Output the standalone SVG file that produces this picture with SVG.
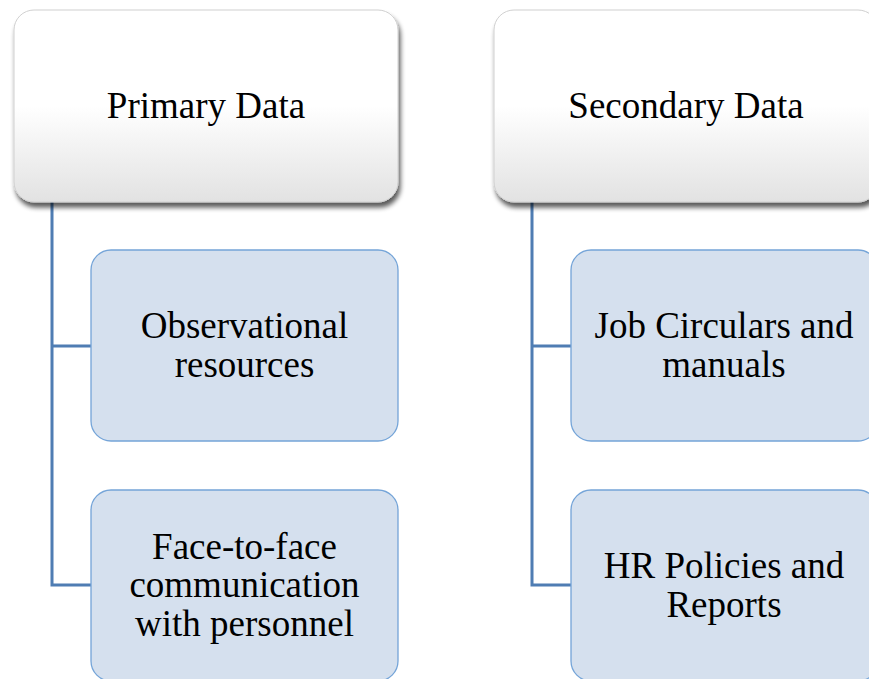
<svg xmlns="http://www.w3.org/2000/svg" width="869" height="679" viewBox="0 0 869 679">
<defs>
<linearGradient id="hg" x1="0" y1="0" x2="0" y2="1">
<stop offset="0" stop-color="#ffffff"/>
<stop offset="0.5" stop-color="#ffffff"/>
<stop offset="1" stop-color="#e2e2e2"/>
</linearGradient>
<filter id="sh" x="-10%" y="-10%" width="125%" height="130%">
<feGaussianBlur in="SourceAlpha" stdDeviation="2.5"/>
<feOffset dx="2" dy="5" result="b"/>
<feComponentTransfer><feFuncA type="linear" slope="0.65"/></feComponentTransfer>
<feMerge><feMergeNode/><feMergeNode in="SourceGraphic"/></feMerge>
</filter>
</defs>
<style>
.head{fill:url(#hg);stroke:#d0d0d0;stroke-width:1}
.child{fill:#d5e0ee;stroke:#74a4d8;stroke-width:1.3}
.conn{fill:none;stroke:#4f7db3;stroke-width:3}
text{font-family:"Liberation Serif","Times New Roman",serif;font-size:37px;fill:#000;text-anchor:middle}
</style>
<rect width="869" height="679" fill="#fff"/>
<g id="connectors">
<path class="conn" d="M52 202 V585 H91 M52 346 H91"/>
<path class="conn" d="M532 202 V585 H571 M532 346 H571"/>
</g>
<g id="primary">
<rect class="head" x="14" y="10" width="384" height="192" rx="20" filter="url(#sh)"/>
<text x="206" y="118">Primary Data</text>
</g>
<g id="secondary">
<rect class="head" x="494" y="10" width="384" height="192" rx="20" filter="url(#sh)"/>
<text x="686" y="118">Secondary Data</text>
</g>
<g id="observational">
<rect class="child" x="91" y="250" width="307" height="191" rx="20"/>
<text x="244.5" y="338">Observational</text>
<text x="244.5" y="377">resources</text>
</g>
<g id="facetoface">
<rect class="child" x="91" y="490" width="307" height="191" rx="20"/>
<text x="244.5" y="559">Face-to-face</text>
<text x="244.5" y="597">communication</text>
<text x="244.5" y="636">with personnel</text>
</g>
<g id="jobcirculars">
<rect class="child" x="571" y="250" width="307" height="191" rx="20"/>
<text x="724" y="338">Job Circulars and</text>
<text x="724" y="377">manuals</text>
</g>
<g id="hrpolicies">
<rect class="child" x="571" y="490" width="307" height="191" rx="20"/>
<text x="724" y="578">HR Policies and</text>
<text x="724" y="617">Reports</text>
</g>
</svg>
